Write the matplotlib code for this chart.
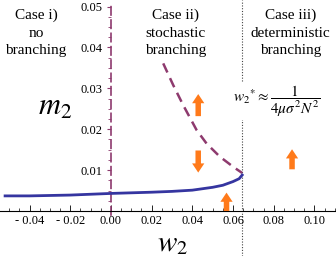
import matplotlib
matplotlib.use("Agg")
import matplotlib.pyplot as plt
from matplotlib.patches import FancyArrowPatch
from matplotlib.ticker import FixedLocator

plt.rcParams['font.family'] = ['Liberation Serif', 'DejaVu Serif']
plt.rcParams['mathtext.fontset'] = 'stix'

# --- data ---
stable_x = [-0.052, -0.04, -0.02, 0.0, 0.02, 0.03, 0.04, 0.05, 0.055, 0.06, 0.063, 0.0645]
stable_y = [0.0037, 0.0037, 0.0039, 0.0043, 0.0046, 0.0048, 0.0051, 0.0058, 0.0063, 0.0072, 0.0079, 0.0088]

unstable_x = [0.0257, 0.0306, 0.0355, 0.0421, 0.0470, 0.0535, 0.0601, 0.0645]
unstable_y = [0.0361, 0.0308, 0.0259, 0.0198, 0.0165, 0.0133, 0.0108, 0.0093]

arrow_x = [0.0429, 0.0429, 0.0568, 0.089]
arrow_y_from = [0.0232, 0.0148, 0.0000, 0.0102]
arrow_y_to = [0.0286, 0.0094, 0.0045, 0.0151]

x_ticks = [-0.04, -0.02, 0.0, 0.02, 0.04, 0.06, 0.08, 0.10]
x_tick_labels = ["- 0.04", "- 0.02", "0.00", "0.02", "0.04", "0.06", "0.08", "0.10"]
x_minor = [-0.05, -0.045, -0.035, -0.03, -0.025, -0.015, -0.01, -0.005,
           0.005, 0.01, 0.015, 0.025, 0.03, 0.035, 0.045, 0.05, 0.055,
           0.065, 0.07, 0.075, 0.085, 0.09, 0.095, 0.105, 0.11]
y_ticks = [0.01, 0.02, 0.03, 0.04, 0.05]
y_tick_labels = ["0.01", "0.02", "0.03", "0.04", "0.05"]
y_minor = [0.0025, 0.005, 0.0075, 0.0125, 0.015, 0.0175, 0.0225, 0.025, 0.0275,
           0.0325, 0.035, 0.0375, 0.0425, 0.045, 0.0475]

w_star = 0.0645

case_labels = ["Case i)\nno\nbranching", "Case ii)\nstochastic\nbranching", "Case iii)\ndeterministic\nbranching"]
case_x = [-0.0368, 0.0319, 0.0884]

fig = plt.figure(figsize=(3.36, 2.56), dpi=100)
ax = fig.add_axes([0, 0, 1, 1])
ax.set_xlim(-0.0545, 0.1106)
ax.set_ylim(-0.011, 0.0516)

purple = '#8e3a6e'
blue = '#3535a0'
orange = '#ff7a1a'

# spines
ax.spines['top'].set_visible(False)
ax.spines['right'].set_visible(False)
ax.spines['bottom'].set_position(('data', 0))
ax.spines['bottom'].set_linewidth(0.8)
ax.spines['left'].set_position(('data', 0))
ax.spines['left'].set_color(purple)
ax.spines['left'].set_linestyle((0, (5, 3)))
ax.spines['left'].set_linewidth(1.2)
ax.spines['left'].set_bounds(-0.001, 0.0505)

ax.xaxis.set_major_locator(FixedLocator(x_ticks))
ax.set_xticklabels(x_tick_labels)
ax.xaxis.set_minor_locator(FixedLocator(x_minor))
ax.yaxis.set_major_locator(FixedLocator(y_ticks))
ax.set_yticklabels(y_tick_labels)
ax.yaxis.set_minor_locator(FixedLocator(y_minor))
ax.tick_params(axis='x', which='major', direction='in', length=4, width=0.6, labelsize=9, pad=3)
ax.tick_params(axis='x', which='minor', direction='in', length=2.5, width=0.5)
ax.tick_params(axis='y', which='major', direction='out', length=3, width=0.8, colors=purple, labelsize=9, pad=3, labelcolor='black')
ax.tick_params(axis='y', which='minor', direction='out', length=2, width=0.6, colors=purple)

# vertical dotted threshold line
ax.axvline(w_star, color='#444444', lw=0.8, ls=(0, (1, 1.5)), zorder=1)

# curves
ax.plot(unstable_x, unstable_y, color=purple, lw=1.8, ls=(0, (4, 2.5)), zorder=3)
ax.plot(stable_x, stable_y, color=blue, lw=2.0, zorder=4)

# arrows
for xa, y0, y1 in zip(arrow_x, arrow_y_from, arrow_y_to):
    ar = FancyArrowPatch((xa, y0), (xa, y1),
                         arrowstyle='simple,head_length=0.6,head_width=0.8,tail_width=0.36',
                         mutation_scale=11, color=orange, lw=0, shrinkA=0, shrinkB=0, zorder=5)
    ax.add_patch(ar)

# case texts
for cx, lab in zip(case_x, case_labels):
    ax.text(cx, 0.0494, lab, ha='center', va='top', fontsize=11, linespacing=1.45)

ax.text(-0.0275, 0.0254, r'$m_2$', fontsize=22, ha='center', va='center')
ax.text(0.0304, -0.0082, r'$w_2$', fontsize=21, ha='center', va='center')

ax.text(0.0815, 0.0268, r'$w_2{}^{*}\approx\dfrac{1}{4\mu\sigma^2 N^2}$', fontsize=11,
        ha='center', va='center', zorder=6,
        bbox=dict(facecolor='white', edgecolor='none', pad=1))

fig.savefig('out.png', dpi=100)
